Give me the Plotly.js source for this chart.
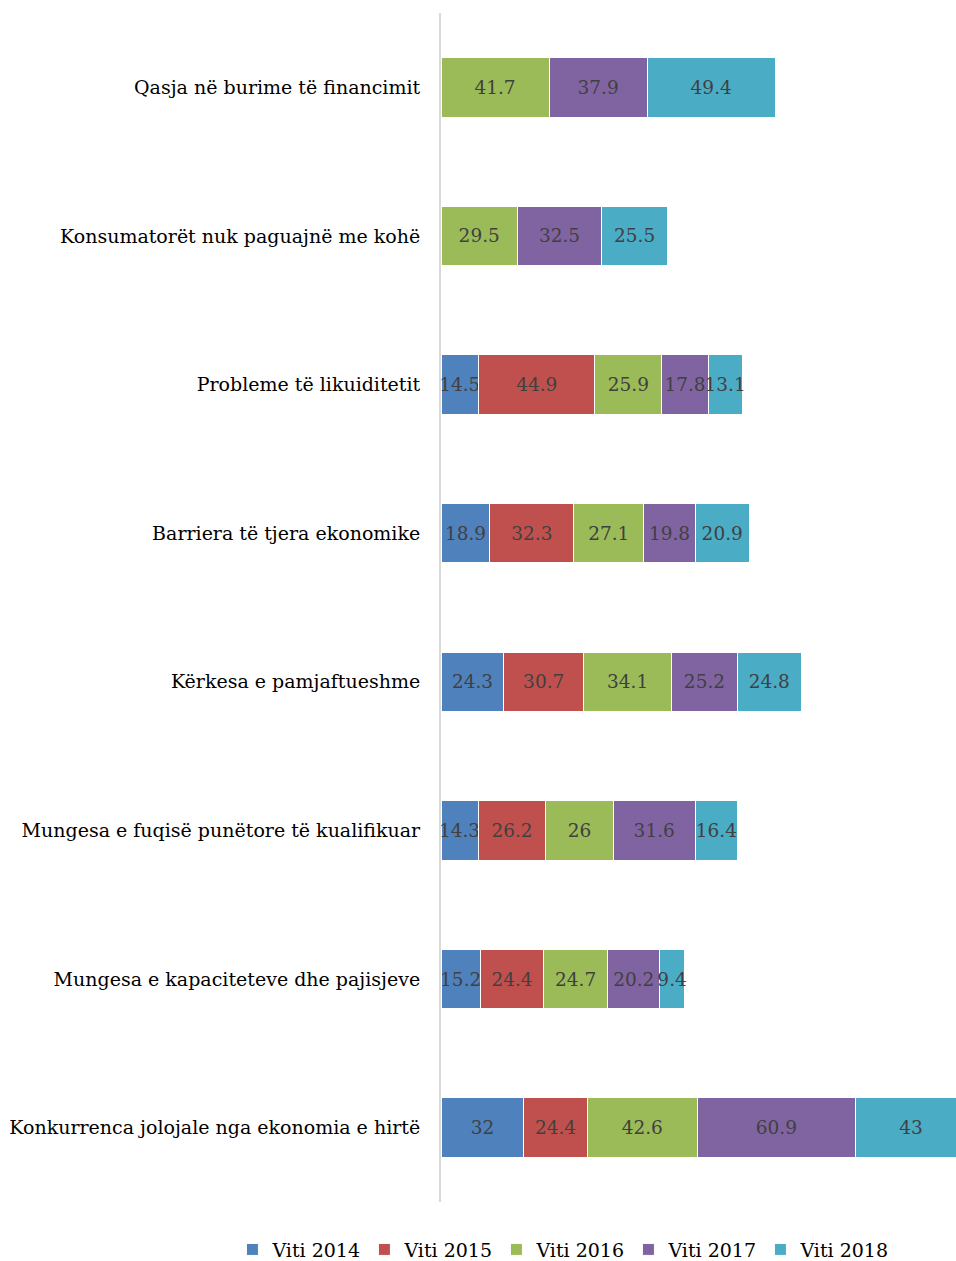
<!DOCTYPE html>
<html>
<head>
<meta charset="utf-8">
<script src="https://cdn.plot.ly/plotly-3.0.1.min.js"></script>
<style>
	body { margin: 0; padding: 0; background: #fff; overflow: hidden; }
</style>
</head>
<body>
<div id="chart"></div>
<script>
const categories = [
	'Qasja në burime të financimit',
	'Konsumatorët nuk paguajnë me kohë',
	'Probleme të likuiditetit',
	'Barriera të tjera ekonomike',
	'Kërkesa e pamjaftueshme',
	'Mungesa e fuqisë punëtore të kualifikuar',
	'Mungesa e kapaciteteve dhe pajisjeve',
	'Konkurrenca jolojale nga ekonomia e hirtë',
];

const years = ['Viti 2014', 'Viti 2015', 'Viti 2016', 'Viti 2017', 'Viti 2018'];

const v2014 = [null, null, 14.5, 18.9, 24.3, 14.3, 15.2, 32];
const v2015 = [null, null, 44.9, 32.3, 30.7, 26.2, 24.4, 24.4];
const v2016 = [41.7, 29.5, 25.9, 27.1, 34.1, 26, 24.7, 42.6];
const v2017 = [37.9, 32.5, 17.8, 19.8, 25.2, 31.6, 20.2, 60.9];
const v2018 = [49.4, 25.5, 13.1, 20.9, 24.8, 16.4, 9.4, 43];

const colors = ['#4F81BD', '#C0504D', '#9BBB59', '#8064A2', '#4BACC6'];

var series = [v2014, v2015, v2016, v2017, v2018];

var fontFam = 'DejaVu Serif, serif';

var data = series.map(function (vals, i) {
	return {
		type: 'bar',
		orientation: 'h',
		name: years[i],
		y: categories,
		x: vals,
		text: vals.map(function (v) { return v === null ? '' : String(v); }),
		textposition: 'inside',
		insidetextanchor: 'middle',
		textangle: 0,
		constraintext: 'none',
		insidetextfont: {
			family: fontFam,
			size: 18.5,
			color: '#404040',
		},
		marker: {
			color: colors[i],
			line: { color: '#ffffff', width: 1 },
		},
		hoverinfo: 'x+name',
	};
});

var layout = {
	width: 956,
	height: 1261,
	barmode: 'stack',
	bargap: 0.6,
	margin: { l: 441, r: 0, t: 13, b: 59, autoexpand: false },
	paper_bgcolor: '#ffffff',
	plot_bgcolor: '#ffffff',
	showlegend: true,
	font: {
		family: fontFam,
		size: 19,
		color: '#000000',
	},
	xaxis: {
		range: [0, 198.8],
		showgrid: false,
		zeroline: false,
		showline: false,
		showticklabels: false,
		ticks: '',
	},
	yaxis: {
		autorange: 'reversed',
		showgrid: false,
		zeroline: false,
		showline: true,
		linecolor: '#d9d9d9',
		linewidth: 2,
		ticks: '',
		ticklabelstandoff: 15,
		tickfont: {
			family: fontFam,
			size: 19,
			color: '#000000',
		},
	},
	legend: {
		orientation: 'h',
		traceorder: 'normal',
		x: -0.405,
		xanchor: 'left',
		y: -0.04,
		yanchor: 'middle',
		font: {
			family: fontFam,
			size: 19,
			color: '#000000',
		},
		itemwidth: 30,
		entrywidth: 87,
		entrywidthmode: 'pixels',
	},
};

var config = { displayModeBar: false, responsive: false };

Plotly.newPlot('chart', data, layout, config);
</script>
</body>
</html>
